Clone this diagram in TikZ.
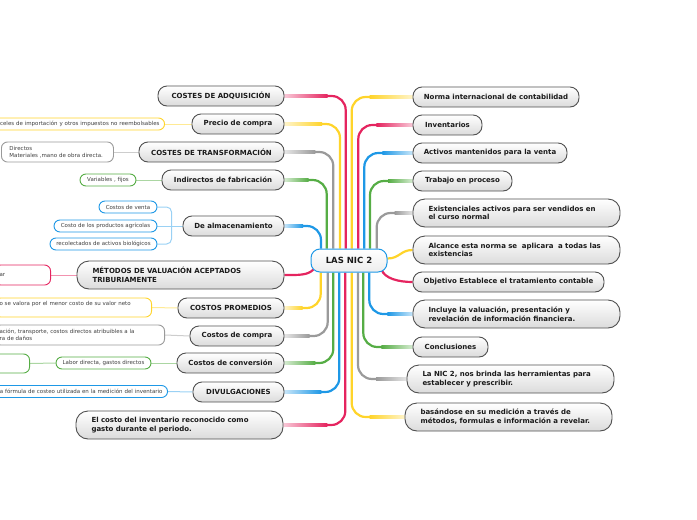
\documentclass[tikz,border=0pt]{standalone}
\usepackage{fontspec}
\setmainfont{DejaVu Sans}
\usetikzlibrary{backgrounds,calc}
\definecolor{cpink}{HTML}{E5245F}
\definecolor{cyel}{HTML}{FFD42A}
\definecolor{cgray}{HTML}{9A9A9A}
\definecolor{cgreen}{HTML}{56AD45}
\definecolor{cblue}{HTML}{1E98E6}
\definecolor{nborder}{HTML}{505050}
\definecolor{ctext}{HTML}{1A1A1A}
\tikzset{
 topic/.style={draw=nborder, line width=0.9pt, rounded corners=9pt, top color=white, bottom color=black!14,
   font=\fontsize{7}{8.7}\selectfont\bfseries, text=ctext, minimum height=20pt, inner xsep=4pt, inner ysep=2pt, align=left},
 bigtopic/.style={topic, minimum height=28pt, rounded corners=12pt, inner xsep=15.5pt, text width=176pt, align=left},
 hub/.style={draw=cblue, line width=1pt, rounded corners=9pt, top color=white, bottom color=black!7,
   font=\fontsize{8.5}{10}\selectfont\bfseries, text=ctext, minimum width=76pt, minimum height=23pt},
 leaf/.style={fill=white, line width=0.9pt, rounded corners=6pt, font=\fontsize{5.5}{7.3}\selectfont, text=black!75,
   minimum height=12pt, inner xsep=5pt, inner ysep=1pt},
 conn/.style={line width=2.2pt, rounded corners=14pt},
 subconn/.style={line width=1pt},
}
\newcommand\connL[4]{%
 \draw[conn,#2] (#1.east) -| ([xshift=#3pt]C.#4);
 \shade[left color=#2!25!white, right color=#2] ($(#1.east)+(0,-1.1)$) rectangle ($(C.#4 |- #1.east)+(#3-18,1.1)$);
}
\newcommand\connR[4]{%
 \draw[conn,#2] (#1.west) -| ([xshift=#3pt]C.#4);
 \shade[left color=#2, right color=#2!25!white] ($(C.#4 |- #1.west)+(#3+18,-1.1)$) rectangle ($(#1.west)+(0,1.1)$);
}
\begin{document}
\begin{tikzpicture}[x=1pt,y=-1pt]
\clip (0,0) rectangle (697,520);
% center
\node[hub] (C) at (349,260.5) {LAS NIC 2};
% left topics
\node[topic, minimum width=126pt] (L1) at (221,96) {COSTES DE ADQUISICIÓN};
\node[topic, minimum width=92pt] (L2) at (238,124) {Precio de compra};
\node[topic, minimum width=145pt] (L3) at (211.5,152) {COSTES DE TRANSFORMACIÓN};
\node[topic, minimum width=122pt] (L4) at (223,180) {Indirectos de fabricación};
\node[topic, minimum width=101pt] (L5) at (233.5,226) {De almacenamiento};
\node[bigtopic] (L6) at (180.5,275) {MÉTODOS DE VALUACIÓN ACEPTADOS\\TRIBURIAMENTE};
\node[topic, minimum width=106pt] (L7) at (231,308) {COSTOS PROMEDIOS};
\node[topic, minimum width=94pt] (L8) at (237,336) {Costos de compra};
\node[topic, minimum width=107pt] (L9) at (230.5,363) {Costos de conversión};
\node[topic, minimum width=91pt] (L10) at (238.5,392) {DIVULGACIONES};
\node[bigtopic] (L11) at (179.5,425) {El costo del inventario reconocido como\\gasto durante el periodo.};
% right topics
\node[topic, minimum width=166pt] (R1) at (496,97) {Norma internacional de contabilidad};
\node[topic, minimum width=69pt] (R2) at (447.5,125) {Inventarios};
\node[topic, minimum width=154pt] (R3) at (490,153) {Activos mantenidos para la venta};
\node[topic, minimum width=99pt] (R4) at (462.5,181) {Trabajo en proceso};
\node[bigtopic] (R5) at (516.5,213) {Existenciales activos para ser vendidos en\\el curso normal};
\node[bigtopic] (R6) at (516.5,250) {Alcance esta norma se~ aplicara~ a todas las\\existencias};
\node[topic, minimum width=191pt] (R7) at (508.5,282) {Objetivo Establece el tratamiento contable};
\node[bigtopic] (R8) at (516.5,314) {Incluye la valuación, presentación y\\revelación de información financiera.};
\node[topic, minimum width=75pt] (R9) at (450.5,347) {Conclusiones};
\node[bigtopic] (R10) at (510.5,379) {La NIC 2, nos brinda las herramientas para\\establecer y prescribir.};
\node[bigtopic] (R11) at (508.5,417) {basándose en su medición a través de\\métodos, formulas e información a revelar.};
% leaves
\node[leaf, draw=cyel, anchor=east, text width=300pt, align=right] (P2c) at (165,124) {celes de importación y otros impuestos no reembolsables};
\node[leaf, draw=cgray, anchor=west, minimum height=20pt, inner xsep=8pt, text width=96pt, align=left] (P3c) at (1,152) {Directos\\Materiales ,mano de obra directa.};
\node[leaf, draw=cgreen, minimum width=56pt] (P4c) at (108,180) {Variables , fijos};
\node[leaf, draw=cblue, minimum width=58pt] (P5a) at (128,207) {Costos de venta};
\node[leaf, draw=cblue, minimum width=103pt] (P5b) at (105.5,226) {Costo de los productos agrícolas};
\node[leaf, draw=cblue, minimum width=107pt] (P5c) at (103.5,244) {recolectados de activos biológicos};
\node[leaf, draw=cpink, anchor=east, minimum height=20pt, text width=46pt, align=left] (P6c) at (51,275) {ar};
\node[leaf, draw=cyel, anchor=east, minimum height=19pt, text width=147pt, align=left] (P7c) at (152,307.5) {o se valora por el menor costo de su valor neto\\\mbox{}};
\node[leaf, draw=cgray, anchor=east, minimum height=20pt, text width=160pt, align=left] (P8c) at (165,335) {ación, transporte, costos directos atribuibles a la\\ra de daños};
\node[leaf, draw=cgreen, minimum width=95pt] (P9c) at (103.5,363) {Labor directa, gastos directos};
\node[leaf, draw=cgreen, anchor=east, minimum width=130pt, minimum height=19pt] (P9d) at (30,363.5) {};
\node[leaf, draw=cblue, anchor=east, text width=300pt, align=right] (P10c) at (168,391.5) {a fórmula de costeo utilizada en la medición del inventario};
\begin{pgfonlayer}{background}
% main connectors
\connL{L1}{cpink}{-3.3}{north}
\connL{L2}{cyel}{-9}{north}
\connL{L3}{cgray}{-15.7}{north}
\connL{L4}{cgreen}{-22.3}{north}
\connL{L5}{cblue}{-28}{north}
\connL{L7}{cyel}{-28.3}{south}
\connL{L8}{cgray}{-21.3}{south}
\connL{L9}{cgreen}{-15.7}{south}
\connL{L10}{cblue}{-9.7}{south}
\connL{L11}{cpink}{-3.7}{south}
\connR{R1}{cyel}{2.7}{north}
\connR{R2}{cpink}{9.3}{north}
\connR{R3}{cblue}{15.3}{north}
\connR{R4}{cgreen}{21}{north}
\connR{R5}{cgray}{27.7}{north}
\connR{R8}{cblue}{20.3}{south}
\connR{R9}{cgreen}{14.3}{south}
\connR{R10}{cgray}{9}{south}
\connR{R11}{cyel}{2.7}{south}
\draw[line width=2.2pt, cpink] ([xshift=3pt,yshift=3pt]C.south west) .. controls +(-6,6) and +(14,0) .. (L6.east);
\draw[line width=2.2pt, cyel] ([yshift=2pt]C.east) .. controls +(12,0) and +(-12,0) .. (R6.west);
\draw[line width=2.2pt, cpink] ([xshift=-6pt,yshift=3pt]C.south east) .. controls +(3,9) and +(-14,0) .. (R7.west);
% leaf connectors
\draw[subconn, cyel!50!white] (P2c.east) -- (L2.west);
\draw[subconn, cgray!50!white] (P3c.east) -- (L3.west);
\draw[subconn, cgreen!50!white] (P4c.east) -- (L4.west);
\draw[subconn, cblue!45!white, rounded corners=5pt] (P5a.east) -| ([xshift=-11pt]L5.west);
\draw[subconn, cblue!45!white, rounded corners=5pt] (P5c.east) -| ([xshift=-11pt]L5.west);
\draw[subconn, cblue!45!white] (P5b.east) -- (L5.west);
\draw[subconn, cpink!50!white] (P6c.east) -- (L6.west);
\draw[subconn, cyel!50!white] (P7c.east) -- (L7.west);
\draw[subconn, cgray!50!white] (P8c.east) -- (L8.west);
\draw[subconn, cgreen!50!white] (P9c.east) -- (L9.west);
\draw[subconn, cgreen!50!white] (P9d.east) -- (P9c.west);
\draw[subconn, cblue!45!white] (P10c.east) -- (L10.west);
\end{pgfonlayer}
\end{tikzpicture}
\end{document}
